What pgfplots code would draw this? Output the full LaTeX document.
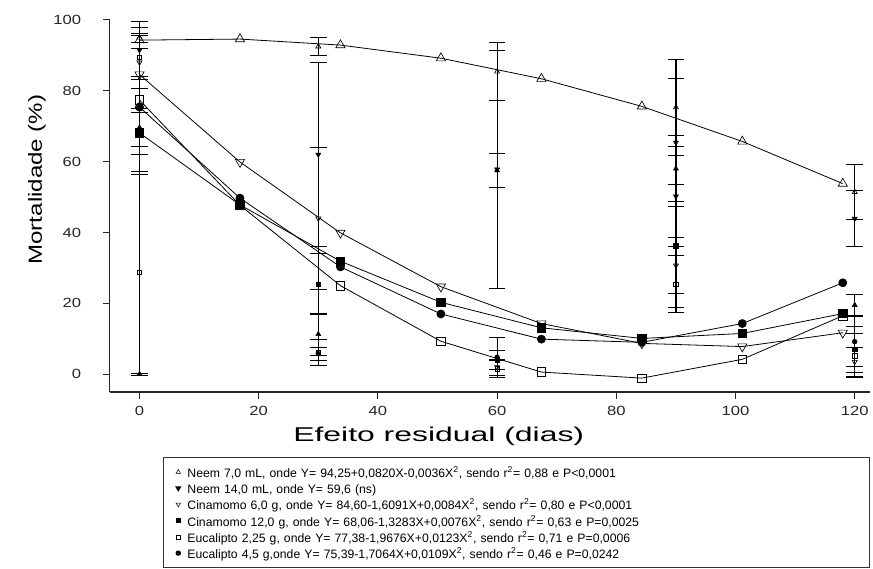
\documentclass[border=0pt]{standalone}
\usepackage{fontspec}
\setmainfont{Liberation Sans}
\newfontfamily\tickfont{Liberation Sans}[FakeStretch=1.25]
\newfontfamily\ylabfont{Liberation Sans}[FakeStretch=1.27]
\newfontfamily\xlabfont{Liberation Sans}[FakeStretch=1.6]
\usepackage{pgfplots}
\pgfplotsset{compat=1.18}

\pgfplotsset{
  obs/.style={forget plot, only marks, black,
    error bars/y dir=both, error bars/y explicit,
    error bars/error bar style={line width=0.9pt, black},
    error bars/error mark options={rotate=90, mark size=6.3pt, line width=0.6pt, black}},
  fitted/.style={forget plot, black, line width=0.6pt},
  legimg/.style={only marks, black, mark size=1.9pt,
    legend image code/.code={\path (-8pt,0pt) (4.5pt,0pt); \draw[##1] plot coordinates {(0pt,0pt)};}},
}

\begin{document}
\begin{tikzpicture}
\begin{axis}[
  at={(0,0)}, anchor=south west,
  width=571.5pt, height=279.75pt, scale only axis,
  xmin=-5, xmax=122.5, ymin=-5, ymax=100,
  axis lines=left, axis line style={-, black!85, line width=0.9pt},
  xtick={0,20,...,120}, ytick={0,20,...,100},
  tick align=outside, major tick length=5pt,
  tick style={black!85, line width=0.8pt},
  clip=false,
  tick label style={font=\tickfont\fontsize{10}{12}\selectfont, text=black!85},
  /pgf/number format/assume math mode=true,
  yticklabel style={xshift=-13pt},
  xticklabel style={yshift=-2.5pt},
  xlabel={Efeito residual (dias)},
  ylabel={Mortalidade (\%)},
  xlabel style={font=\xlabfont\fontsize{15}{18}\selectfont, at={(axis description cs:0.433,-0.1206)}, anchor=center},
  ylabel style={font=\ylabfont\fontsize{14.25}{17}\selectfont, at={(axis description cs:-0.0958,0.571)}, anchor=center},
  legend style={at={(axis description cs:0.0696,-0.1742)}, anchor=north west,
    draw=black!80, line width=0.8pt, font=\fontsize{9.2}{11}\selectfont,
    inner xsep=3pt, inner ysep=5pt,
    /tikz/column 2/.style={text width=508pt},
    nodes={text height=9.6pt, text depth=1.4pt, inner ysep=0.6pt}},
  legend cell align=left,
]
% observed means with error bars
\addplot[obs, mark=triangle, mark size=2.2pt, mark options={fill=white, line width=0.5pt}] coordinates {
  (0,95) +- (0,1.3) (30,92.5) +- (0,2.5) (60,85.4) +- (0,8.2) (90,75.3) +- (0,13.6) (120,51.4) +- (0,7.8)};
\addplot[obs, mark=triangle*, mark size=2.2pt, mark options={rotate=180}] coordinates {
  (0,91.5) +- (0,8.2) (30,62) +- (0,26) (60,57.8) +- (0,33.7) (90,65.4) +- (0,18) (90,50.2) +- (0,14) (120,43.9) +- (0,7.9)};
\addplot[obs, mark=triangle, mark size=2.2pt, mark options={rotate=180, fill=white, line width=0.5pt}] coordinates {
  (0,88) +- (0,4) (30,44) +- (0,20) (60,2) +- (0,2.2) (90,30.7) +- (0,7.8) (120,3.5) +- (0,4)};
\addplot[obs, mark=square*, mark size=1.7pt] coordinates {
  (0,68) +- (0,6) (30,25.4) +- (0,8.6) (60,4) +- (0,2.6) (90,36.2) +- (0,17.3) (120,7) +- (0,6.6)};
\addplot[obs, mark=square, mark size=1.7pt, mark options={fill=white, line width=0.5pt}] coordinates {
  (0,89.4) +- (0,8.6) (0,28.8) +- (0,28.5) (30,6.2) +- (0,3.7) (60,1.5) +- (0,2.3) (90,25.4) +- (0,8) (120,5.2) +- (0,6.2)};
\addplot[obs, mark=*, mark size=1.8pt] coordinates {
  (0,76) +- (0,19.7) (30,5.8) +- (0,1.8) (60,4.8) +- (0,5.6) (90,36) +- (0,2.5) (120,9.2) +- (0,7)};
\addplot[obs, mark=triangle*, mark size=2.2pt] coordinates {
  (0,69.6) +- (0,5.4) (0,0) +- (0,0.3) (30,11.3) +- (0,6) (60,57.5) +- (0,4.7) (90,58) +- (0,9.3) (120,19.5) +- (0,3)};

% fitted curves
\addplot[fitted, mark=triangle, mark size=4pt, mark options={fill=white, line width=0.5pt}] coordinates {
  (0,94.3) (16.86,94.6) (33.71,92.9) (50.57,89.2) (67.43,83.4) (84.29,75.6) (101.14,65.7) (118,53.8)};
\addplot[fitted, mark=triangle, mark size=4pt, mark options={rotate=180, fill=white, line width=0.5pt}] coordinates {
  (0,84.6) (16.86,59.9) (33.71,39.9) (50.57,24.7) (67.43,14.3) (84.29,8.7) (101.14,7.8) (118,11.7)};
\addplot[fitted, mark=square*, mark size=3.2pt] coordinates {
  (0,68.1) (16.86,47.8) (33.71,31.9) (50.57,20.3) (67.43,13.1) (84.29,10.1) (101.14,11.5) (118,17.1)};
\addplot[fitted, mark=square, mark size=3.2pt, mark options={fill=white, line width=0.5pt}] coordinates {
  (0,77.4) (16.86,47.7) (33.71,25.0) (50.57,9.3) (67.43,0.6) (84.29,-1.1) (101.14,4.2) (118,16.5)};
\addplot[fitted, mark=*, mark size=3pt] coordinates {
  (0,75.4) (16.86,49.7) (33.71,30.3) (50.57,17.0) (67.43,9.9) (84.29,9.0) (101.14,14.3) (118,25.8)};

\addlegendimage{legimg, mark=triangle, mark options={fill=white, line width=0.4pt}}
\addlegendentry{Neem 7,0 mL, onde Y= 94,25+0,0820X-0,0036X\textsuperscript{2}, sendo r\textsuperscript{2}= 0,88 e P<0,0001}
\addlegendimage{legimg, mark=triangle*, mark options={rotate=180}}
\addlegendentry{Neem 14,0 mL, onde Y= 59,6 (ns)}
\addlegendimage{legimg, mark=triangle, mark options={rotate=180, fill=white, line width=0.4pt}}
\addlegendentry{Cinamomo 6,0 g, onde Y= 84,60-1,6091X+0,0084X\textsuperscript{2}, sendo r\textsuperscript{2}= 0,80 e P<0,0001}
\addlegendimage{legimg, mark=square*, mark size=1.6pt}
\addlegendentry{Cinamomo 12,0 g, onde Y= 68,06-1,3283X+0,0076X\textsuperscript{2}, sendo r\textsuperscript{2}= 0,63 e P=0,0025}
\addlegendimage{legimg, mark=square, mark size=1.6pt, mark options={fill=white, line width=0.4pt}}
\addlegendentry{Eucalipto 2,25 g, onde Y= 77,38-1,9676X+0,0123X\textsuperscript{2}, sendo r\textsuperscript{2}= 0,71 e P=0,0006}
\addlegendimage{legimg, mark=*, mark size=1.6pt}
\addlegendentry{Eucalipto 4,5 g,onde Y= 75,39-1,7064X+0,0109X\textsuperscript{2}, sendo r\textsuperscript{2}= 0,46 e P=0,0242}
\end{axis}
\path (-82.5pt,-132.75pt) rectangle (572.25pt,294.75pt);
\end{tikzpicture}
\end{document}
